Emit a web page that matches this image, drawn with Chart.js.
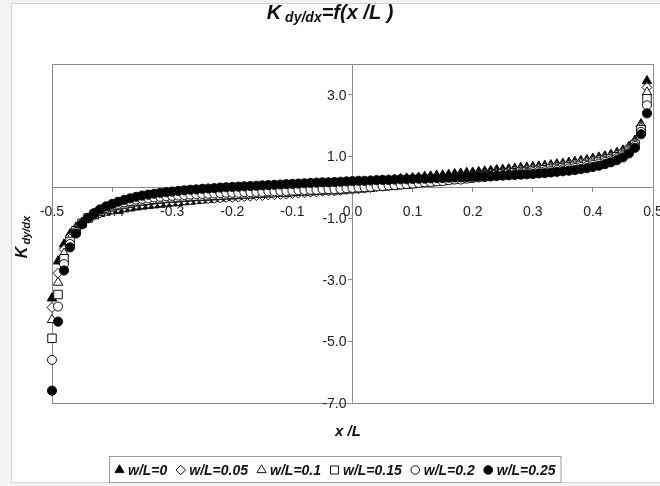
<!DOCTYPE html>
<html>
<head>
<meta charset="utf-8">
<script src="https://cdn.jsdelivr.net/npm/chart.js@4.4.0/dist/chart.umd.min.js"></script>
<style>
  html, body { margin: 0; padding: 0; background: #f3f3f3; }
  canvas { display: block; }
</style>
</head>
<body>
<canvas id="chart" width="660" height="486"></canvas>
<script>
// x/L positions (one point every 0.01)
const xValues = [
  -0.50, -0.49, -0.48, -0.47, -0.46, -0.45, -0.44, -0.43, -0.42, -0.41,
  -0.40, -0.39, -0.38, -0.37, -0.36, -0.35, -0.34, -0.33, -0.32, -0.31,
  -0.30, -0.29, -0.28, -0.27, -0.26, -0.25, -0.24, -0.23, -0.22, -0.21,
  -0.20, -0.19, -0.18, -0.17, -0.16, -0.15, -0.14, -0.13, -0.12, -0.11,
  -0.10, -0.09, -0.08, -0.07, -0.06, -0.05, -0.04, -0.03, -0.02, -0.01,
  0.00, 0.01, 0.02, 0.03, 0.04, 0.05, 0.06, 0.07, 0.08, 0.09,
  0.10, 0.11, 0.12, 0.13, 0.14, 0.15, 0.16, 0.17, 0.18, 0.19,
  0.20, 0.21, 0.22, 0.23, 0.24, 0.25, 0.26, 0.27, 0.28, 0.29,
  0.30, 0.31, 0.32, 0.33, 0.34, 0.35, 0.36, 0.37, 0.38, 0.39,
  0.40, 0.41, 0.42, 0.43, 0.44, 0.45, 0.46, 0.47, 0.48, 0.49
];

const xTicks = [-0.5, -0.4, -0.3, -0.2, -0.1, 0.0, 0.1, 0.2, 0.3, 0.4, 0.5];
const yTicks = [-7, -5, -3, -1, 1, 3];

const seriesNames = ['w/L=0', 'w/L=0.05', 'w/L=0.1', 'w/L=0.15', 'w/L=0.2', 'w/L=0.25'];

// K dy/dx values, one array per w/L
const k000 = [
  -3.60, -2.40, -1.85, -1.52, -1.30, -1.14, -1.02, -0.93, -0.86, -0.80,
  -0.77, -0.74, -0.71, -0.68, -0.65, -0.62, -0.60, -0.58, -0.56, -0.54,
  -0.52, -0.50, -0.48, -0.46, -0.44, -0.42, -0.40, -0.38, -0.36, -0.34,
  -0.32, -0.30, -0.28, -0.26, -0.24, -0.21, -0.19, -0.17, -0.15, -0.12,
  -0.10, -0.08, -0.05, -0.03, -0.01, 0.02, 0.04, 0.06, 0.08, 0.10,
  0.12, 0.14, 0.16, 0.18, 0.20, 0.21, 0.23, 0.25, 0.27, 0.29,
  0.30, 0.32, 0.34, 0.36, 0.38, 0.39, 0.41, 0.43, 0.45, 0.47,
  0.48, 0.50, 0.52, 0.54, 0.56, 0.57, 0.59, 0.61, 0.63, 0.64,
  0.66, 0.68, 0.70, 0.72, 0.75, 0.77, 0.80, 0.83, 0.86, 0.89,
  0.93, 0.97, 1.01, 1.06, 1.12, 1.20, 1.32, 1.52, 2.05, 3.45
];
const k005 = [
  -3.90, -2.79, -2.02, -1.61, -1.34, -1.15, -1.01, -0.91, -0.83, -0.76,
  -0.71, -0.67, -0.63, -0.60, -0.56, -0.54, -0.52, -0.50, -0.48, -0.46,
  -0.45, -0.44, -0.42, -0.41, -0.39, -0.38, -0.37, -0.36, -0.35, -0.33,
  -0.33, -0.32, -0.30, -0.29, -0.27, -0.27, -0.25, -0.24, -0.23, -0.22,
  -0.20, -0.19, -0.18, -0.16, -0.15, -0.13, -0.12, -0.12, -0.10, -0.08,
  -0.06, -0.05, -0.03, -0.01, 0.02, 0.03, 0.05, 0.07, 0.10, 0.11,
  0.13, 0.16, 0.19, 0.21, 0.23, 0.25, 0.28, 0.31, 0.32, 0.35,
  0.37, 0.40, 0.43, 0.44, 0.47, 0.49, 0.52, 0.55, 0.57, 0.59,
  0.61, 0.63, 0.65, 0.67, 0.70, 0.72, 0.75, 0.78, 0.81, 0.84,
  0.88, 0.92, 0.96, 1.01, 1.07, 1.15, 1.28, 1.47, 1.98, 3.24
];
const k010 = [
  -4.30, -3.09, -2.15, -1.67, -1.37, -1.16, -1.01, -0.90, -0.81, -0.74,
  -0.68, -0.64, -0.59, -0.56, -0.52, -0.50, -0.48, -0.45, -0.43, -0.41,
  -0.40, -0.39, -0.37, -0.36, -0.35, -0.34, -0.33, -0.32, -0.31, -0.29,
  -0.29, -0.28, -0.26, -0.26, -0.24, -0.23, -0.22, -0.21, -0.20, -0.19,
  -0.18, -0.16, -0.15, -0.14, -0.13, -0.11, -0.10, -0.10, -0.09, -0.07,
  -0.05, -0.04, -0.02, -0.01, 0.02, 0.03, 0.05, 0.07, 0.10, 0.11,
  0.13, 0.16, 0.18, 0.20, 0.22, 0.24, 0.27, 0.29, 0.30, 0.33,
  0.35, 0.38, 0.40, 0.42, 0.44, 0.46, 0.49, 0.52, 0.53, 0.55,
  0.58, 0.60, 0.62, 0.64, 0.66, 0.68, 0.71, 0.74, 0.77, 0.80,
  0.84, 0.88, 0.92, 0.97, 1.04, 1.12, 1.24, 1.44, 1.93, 3.08
];
const k015 = [
  -4.90, -3.48, -2.32, -1.76, -1.41, -1.17, -1.00, -0.88, -0.78, -0.70,
  -0.63, -0.59, -0.54, -0.50, -0.46, -0.44, -0.42, -0.39, -0.37, -0.35,
  -0.34, -0.33, -0.31, -0.30, -0.29, -0.28, -0.27, -0.26, -0.25, -0.24,
  -0.23, -0.23, -0.21, -0.21, -0.19, -0.19, -0.17, -0.17, -0.16, -0.16,
  -0.14, -0.13, -0.12, -0.11, -0.10, -0.09, -0.08, -0.08, -0.07, -0.05,
  -0.04, -0.02, -0.01, 0.00, 0.03, 0.04, 0.06, 0.07, 0.09, 0.10,
  0.12, 0.15, 0.17, 0.18, 0.21, 0.22, 0.25, 0.27, 0.28, 0.30,
  0.32, 0.35, 0.37, 0.38, 0.41, 0.43, 0.45, 0.47, 0.49, 0.51,
  0.53, 0.55, 0.57, 0.59, 0.61, 0.63, 0.66, 0.68, 0.71, 0.74,
  0.78, 0.82, 0.87, 0.92, 0.99, 1.07, 1.20, 1.39, 1.87, 2.87
];
const k020 = [
  -5.60, -3.87, -2.49, -1.84, -1.45, -1.19, -1.00, -0.86, -0.76, -0.67,
  -0.59, -0.54, -0.49, -0.45, -0.40, -0.38, -0.36, -0.33, -0.31, -0.29,
  -0.28, -0.27, -0.25, -0.24, -0.23, -0.22, -0.21, -0.20, -0.19, -0.18,
  -0.18, -0.18, -0.16, -0.16, -0.15, -0.15, -0.13, -0.13, -0.12, -0.12,
  -0.11, -0.09, -0.09, -0.08, -0.08, -0.06, -0.06, -0.06, -0.05, -0.03,
  -0.02, -0.01, 0.00, 0.01, 0.03, 0.04, 0.06, 0.07, 0.09, 0.10,
  0.12, 0.14, 0.16, 0.17, 0.19, 0.20, 0.23, 0.25, 0.25, 0.28,
  0.30, 0.32, 0.33, 0.35, 0.37, 0.39, 0.41, 0.43, 0.45, 0.47,
  0.49, 0.51, 0.52, 0.54, 0.56, 0.58, 0.61, 0.63, 0.66, 0.69,
  0.73, 0.77, 0.82, 0.87, 0.94, 1.03, 1.16, 1.34, 1.80, 2.66
];
const k025 = [
  -6.60, -4.36, -2.70, -1.95, -1.50, -1.20, -0.99, -0.84, -0.72, -0.62,
  -0.54, -0.47, -0.41, -0.36, -0.31, -0.27, -0.24, -0.21, -0.18, -0.16,
  -0.14, -0.12, -0.10, -0.08, -0.07, -0.05, -0.04, -0.03, -0.01, 0.00,
  0.01, 0.02, 0.03, 0.04, 0.05, 0.06, 0.07, 0.08, 0.09, 0.10,
  0.11, 0.12, 0.13, 0.14, 0.15, 0.16, 0.16, 0.17, 0.18, 0.19,
  0.20, 0.21, 0.21, 0.22, 0.23, 0.24, 0.24, 0.25, 0.26, 0.26,
  0.27, 0.28, 0.28, 0.29, 0.30, 0.30, 0.31, 0.32, 0.32, 0.33,
  0.34, 0.35, 0.35, 0.36, 0.37, 0.38, 0.39, 0.40, 0.41, 0.42,
  0.43, 0.45, 0.46, 0.48, 0.50, 0.52, 0.54, 0.56, 0.59, 0.62,
  0.66, 0.70, 0.75, 0.81, 0.88, 0.97, 1.10, 1.28, 1.72, 2.40
];

const seriesValues = [k000, k005, k010, k015, k020, k025];

// marker look per series (excel style)
const markers = [
  { style: 'triangle', fill: '#000', radius: 5.5 },
  { style: 'rectRot', fill: '#fff', radius: 5 },
  { style: 'triangle', fill: '#fff', radius: 5.5 },
  { style: 'rect', fill: '#fff', radius: 6 },
  { style: 'circle', fill: '#fff', radius: 4.5 },
  { style: 'circle', fill: '#000', radius: 4.6 }
];

const FONT = "'Liberation Sans', Arial, sans-serif";
const AXIS_GRAY = '#8c8c8c';

const datasets = seriesValues.map((vals, i) => ({
  label: seriesNames[i],
  data: xValues.map((x, j) => ({ x: x, y: vals[j] })),
  showLine: false,
  pointStyle: markers[i].style,
  pointRadius: markers[i].radius,
  pointHoverRadius: markers[i].radius,
  pointBackgroundColor: markers[i].fill,
  pointBorderColor: '#111',
  pointBorderWidth: 1,
  clip: false,
  order: seriesValues.length - i   // last series on top, like excel
}));

// text with a subscript piece, left to right from x
function drawParts(ctx, parts, x, y, align) {
  let total = 0;
  parts.forEach(p => {
    ctx.font = `italic bold ${p.size}px ${FONT}`;
    p.w = ctx.measureText(p.t).width + (p.gap || 0);
    total += p.w;
  });
  let cx = align === 'center' ? x - total / 2 : x;
  parts.forEach(p => {
    ctx.font = `italic bold ${p.size}px ${FONT}`;
    ctx.fillText(p.t, cx + (p.gap || 0), y + (p.dy || 0));
    cx += p.w;
  });
}

function drawMarker(ctx, m, x, y) {
  ctx.save();
  ctx.fillStyle = m.fill;
  ctx.strokeStyle = '#111';
  ctx.lineWidth = 1;
  ctx.beginPath();
  const r = m.radius * 0.95;
  if (m.style === 'triangle') {
    ctx.moveTo(x, y - r);
    ctx.lineTo(x + r * 0.866, y + r * 0.5);
    ctx.lineTo(x - r * 0.866, y + r * 0.5);
    ctx.closePath();
  } else if (m.style === 'rectRot') {
    ctx.moveTo(x, y - r);
    ctx.lineTo(x + r, y);
    ctx.lineTo(x, y + r);
    ctx.lineTo(x - r, y);
    ctx.closePath();
  } else if (m.style === 'rect') {
    const s = r * 0.707;
    ctx.rect(x - s, y - s, 2 * s, 2 * s);
  } else {
    ctx.arc(x, y, r, 0, Math.PI * 2);
  }
  ctx.fill();
  ctx.stroke();
  ctx.restore();
}

const decorPlugin = {
  id: 'decor',
  beforeDraw(chart) {
    const ctx = chart.ctx;
    ctx.save();
    ctx.fillStyle = '#f3f3f3';
    ctx.fillRect(0, 0, chart.width, chart.height);
    ctx.fillStyle = '#fff';
    ctx.fillRect(11, 3, chart.width - 11, 480);
    ctx.strokeStyle = '#d4d4d4';
    ctx.lineWidth = 1;
    ctx.strokeRect(11.5, 3.5, chart.width, 479);
    ctx.restore();
  },
  beforeDatasetsDraw(chart) {
    const ctx = chart.ctx;
    const a = chart.chartArea;
    ctx.save();
    ctx.strokeStyle = AXIS_GRAY;
    ctx.lineWidth = 1;
    ctx.strokeRect(Math.round(a.left) + 0.5, Math.round(a.top) + 0.5,
      Math.round(a.right - a.left), Math.round(a.bottom - a.top));

    // y tick labels sit left of the y axis that crosses at x = 0
    const xs = chart.scales.x, ys = chart.scales.y;
    const axisX = xs.getPixelForValue(0);
    ctx.fillStyle = '#222';
    ctx.font = `14px ${FONT}`;
    ctx.textAlign = 'right';
    ctx.textBaseline = 'middle';
    yTicks.forEach(v => {
      ctx.fillText(v.toFixed(1), axisX - 6, ys.getPixelForValue(v) + 1);
    });
    ctx.restore();
  },
  afterDraw(chart) {
    const ctx = chart.ctx;
    ctx.save();
    ctx.fillStyle = '#111';
    ctx.textBaseline = 'alphabetic';

    // title
    drawParts(ctx, [
      { t: 'K', size: 20 },
      { t: 'dy/dx', size: 14, dy: 3, gap: 4 },
      { t: '=f(x /L )', size: 20 }
    ], 330, 19, 'center');

    // axis titles
    drawParts(ctx, [{ t: 'x /L', size: 15 }], 348, 436, 'center');
    ctx.save();
    ctx.translate(27, 237);
    ctx.rotate(-Math.PI / 2);
    drawParts(ctx, [
      { t: 'K', size: 16 },
      { t: 'dy/dx', size: 11, dy: 3, gap: 2 }
    ], 0, 0, 'center');
    ctx.restore();

    // legend
    ctx.font = `italic bold 14px ${FONT}`;
    const markW = 11, gapIn = 3, gapOut = 8;
    const widths = seriesNames.map(n => ctx.measureText(n).width);
    const total = widths.reduce((s, w) => s + markW + gapIn + w, 0) + gapOut * (seriesNames.length - 1) + 10;
    const boxX = Math.round(335 - total / 2);
    const boxY = 456;
    ctx.fillStyle = '#fff';
    ctx.fillRect(boxX, boxY, total, 27);
    ctx.strokeStyle = '#9a9a9a';
    ctx.strokeRect(boxX + 0.5, boxY + 0.5, total, 26);
    let lx = boxX + 5;
    const ly = boxY + 14;
    seriesNames.forEach((n, i) => {
      drawMarker(ctx, markers[i], lx + markW / 2, ly);
      ctx.fillStyle = '#111';
      ctx.font = `italic bold 14px ${FONT}`;
      ctx.textBaseline = 'middle';
      ctx.fillText(n, lx + markW + gapIn, ly + 1);
      lx += markW + gapIn + widths[i] + gapOut;
    });
    ctx.restore();
  }
};

new Chart(document.getElementById('chart'), {
  type: 'scatter',
  data: { datasets: datasets },
  options: {
    responsive: false,
    animation: false,
    layout: { padding: { left: 52, right: 7, top: 64, bottom: 83 } },
    plugins: {
      legend: { display: false },
      title: { display: false },
      tooltip: { enabled: false }
    },
    scales: {
      x: {
        type: 'linear',
        min: -0.5,
        max: 0.5,
        position: { y: 0 },
        afterBuildTicks: s => { s.ticks = xTicks.map(v => ({ value: v })); },
        afterFit: s => { s.height = 0; s.paddingLeft = 0; s.paddingRight = 0; },
        grid: { drawOnChartArea: false, drawTicks: true, tickLength: 4, color: AXIS_GRAY },
        border: { display: true, color: AXIS_GRAY },
        ticks: {
          padding: 12,
          autoSkip: false,
          maxRotation: 0,
          color: '#222',
          font: { family: FONT, size: 14 },
          callback: v => Number(v).toFixed(1)
        }
      },
      y: {
        type: 'linear',
        min: -7,
        max: 4,
        position: { x: 0 },
        afterBuildTicks: s => { s.ticks = yTicks.map(v => ({ value: v })); },
        afterFit: s => { s.width = 0; s.paddingTop = 0; s.paddingBottom = 0; },
        grid: { drawOnChartArea: false, drawTicks: true, tickLength: 4, color: AXIS_GRAY },
        border: { display: true, color: AXIS_GRAY },
        ticks: { display: false }
      }
    }
  },
  plugins: [decorPlugin]
});
</script>
</body>
</html>
